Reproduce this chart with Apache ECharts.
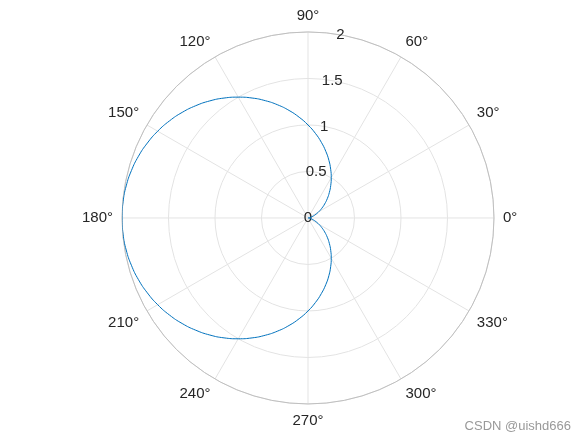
<!DOCTYPE html>
<html><head><meta charset="utf-8">
<script src="https://cdn.jsdelivr.net/npm/echarts@6/dist/echarts.min.js"></script>
<style>html,body{margin:0;padding:0;background:#fff}#c{width:587px;height:443px}</style>
</head><body><div id="c"></div>
<script>
const angles = [0,5,10,15,20,25,30,35,40,45,50,55,60,65,70,75,80,85,90,95,100,105,110,115,120,125,130,135,140,145,150,155,160,165,170,175,180,185,190,195,200,205,210,215,220,225,230,235,240,245,250,255,260,265,270,275,280,285,290,295,300,305,310,315,320,325,330,335,340,345,350,355,360];
const radii = [0,0.004,0.015,0.034,0.060,0.094,0.134,0.181,0.234,0.293,0.357,0.426,0.5,0.577,0.658,0.741,0.826,0.913,1,1.087,1.174,1.259,1.342,1.423,1.5,1.574,1.643,1.707,1.766,1.819,1.866,1.906,1.940,1.966,1.985,1.996,2,1.996,1.985,1.966,1.940,1.906,1.866,1.819,1.766,1.707,1.643,1.574,1.5,1.423,1.342,1.259,1.174,1.087,1,0.913,0.826,0.741,0.658,0.577,0.5,0.426,0.357,0.293,0.234,0.181,0.134,0.094,0.060,0.034,0.015,0.004,0];
const radiusTicks = [0,0.5,1,1.5,2];
const angleTicks = [0,30,60,90,120,150,180,210,240,270,300,330];

const chart = echarts.init(document.getElementById('c'));
const center = ['52.47%','49.2%'];
const R = 186;
const textColor = '#262626';
chart.setOption({
  animation:false,
  polar:[{center:center,radius:R},{center:center,radius:R}],
  angleAxis:[{
    polarIndex:0,type:'value',min:0,max:360,interval:30,startAngle:0,clockwise:false,
    axisLine:{show:true,lineStyle:{color:'#bfbfbf',width:1}},
    axisTick:{show:false},
    axisLabel:{show:true,margin:9,color:textColor,fontSize:15,fontFamily:'Arial',formatter:v=>v===360?'':v+'°'},
    splitLine:{show:true,lineStyle:{color:'#e3e3e3',width:1}}
  },{
    polarIndex:1,type:'value',min:0,max:360,startAngle:80,clockwise:false,
    axisLine:{show:false},axisTick:{show:false},axisLabel:{show:false},splitLine:{show:false}
  }],
  radiusAxis:[{
    polarIndex:0,type:'value',min:0,max:2,interval:0.5,
    axisLine:{show:false},axisTick:{show:false},axisLabel:{show:false},
    splitLine:{show:true,lineStyle:{color:'#e3e3e3',width:1}}
  },{
    polarIndex:1,type:'value',min:0,max:2,interval:0.5,
    axisLine:{show:false},axisTick:{show:false},splitLine:{show:false},
    axisLabel:{show:true,margin:0,color:textColor,fontSize:15,fontFamily:'Arial',align:'center',verticalAlign:'middle',rotate:0}
  }],
  series:[{
    type:'line',coordinateSystem:'polar',polarIndex:0,
    data:angles.map((a,i)=>[radii[i],a]),
    showSymbol:false,smooth:true,
    lineStyle:{color:'#0072BD',width:1},z:5
  }],
  graphic:[{type:'text',right:16,bottom:10,style:{text:'CSDN @uishd666',fill:'#999',fontSize:13,fontFamily:'Arial'}}]
});
</script></body></html>
